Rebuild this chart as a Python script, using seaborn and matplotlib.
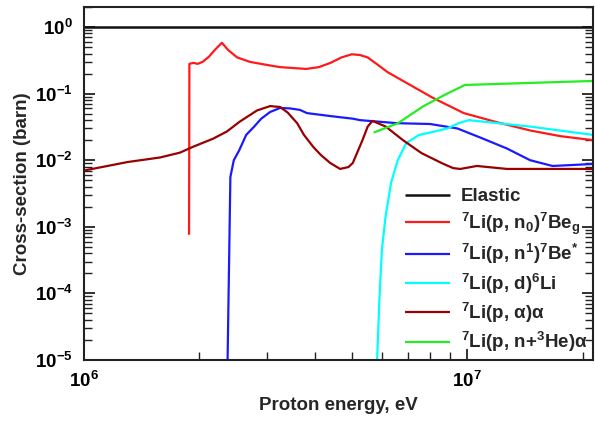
import numpy as np
import pandas as pd
import matplotlib
matplotlib.use("Agg")
import matplotlib.pyplot as plt
import seaborn as sns
from matplotlib.ticker import LogLocator, NullFormatter

# ---------------- data (energy in eV, cross-section in barn) ----------------
elastic_E = [1.0e6, 2.13e7]
elastic_s = [1.0, 1.0]

n0_E = [1.88e6, 1.884e6, 1.93e6, 1.98e6, 2.04e6, 2.12e6, 2.20e6, 2.29e6, 2.38e6,
        2.51e6, 2.71e6, 3.0e6, 3.25e6, 3.8e6, 4.1e6, 4.4e6, 4.7e6, 5.0e6, 5.25e6,
        5.5e6, 5.8e6, 6.2e6, 7.1e6, 8.15e6, 9.8e6, 1.2e7, 1.46e7, 1.75e7, 2.13e7]
n0_s = [7.6e-4, 0.28, 0.29, 0.28, 0.30, 0.36, 0.46, 0.58, 0.45,
        0.35, 0.30, 0.27, 0.25, 0.235, 0.25, 0.29, 0.35, 0.39, 0.38,
        0.35, 0.28, 0.21, 0.135, 0.086, 0.051, 0.037, 0.028, 0.023, 0.020]

n1_E = [2.37e6, 2.41e6, 2.46e6, 2.54e6, 2.65e6, 2.78e6, 2.90e6, 3.06e6, 3.25e6,
        3.45e6, 3.66e6, 3.82e6, 4.4e6, 5.04e6, 5.25e6, 6.56e6, 8.0e6, 9.43e6,
        1.08e7, 1.27e7, 1.46e7, 1.67e7, 1.9e7, 2.13e7]
n1_s = [1e-5, 5.6e-3, 0.010, 0.014, 0.024, 0.032, 0.042, 0.053, 0.061,
        0.060, 0.057, 0.051, 0.046, 0.042, 0.040, 0.036, 0.035, 0.030,
        0.022, 0.015, 0.010, 0.0082, 0.0085, 0.0088]

d_E = [5.82e6, 5.90e6, 5.99e6, 6.12e6, 6.33e6, 6.59e6, 6.93e6, 7.49e6, 8.0e6,
       8.87e6, 9.5e6, 1.01e7, 1.15e7, 1.46e7, 2.13e7]
d_s = [1e-5, 7.9e-5, 4.5e-4, 1.4e-3, 4.6e-3, 0.010, 0.018, 0.024, 0.026,
       0.030, 0.036, 0.040, 0.037, 0.032, 0.024]

a_E = [1.0e6, 1.3e6, 1.58e6, 1.78e6, 1.93e6, 2.17e6, 2.36e6, 2.55e6, 2.83e6,
       3.06e6, 3.25e6, 3.4e6, 3.6e6, 3.75e6, 3.96e6, 4.15e6, 4.39e6, 4.66e6,
       4.9e6, 5.03e6, 5.33e6, 5.5e6, 5.66e6, 6.13e6, 6.8e6, 7.6e6, 8.6e6,
       9.2e6, 9.6e6, 1.06e7, 1.27e7, 2.13e7]
a_s = [0.0070, 0.0094, 0.011, 0.013, 0.016, 0.021, 0.027, 0.038, 0.056,
       0.065, 0.063, 0.052, 0.036, 0.024, 0.016, 0.012, 0.0091, 0.0074,
       0.0079, 0.0091, 0.020, 0.032, 0.039, 0.032, 0.020, 0.0128, 0.0090,
       0.0076, 0.0074, 0.0082, 0.0074, 0.0074]

he_E = [5.70e6, 6.6e6, 7.66e6, 8.8e6, 9.87e6, 2.13e7]
he_s = [0.026, 0.036, 0.064, 0.098, 0.135, 0.155]

reactions = ["Elastic",
             r"$^{7}$Li(p, n$_{0}$)$^{7}$Be$_{g}$",
             r"$^{7}$Li(p, n$^{1}$)$^{7}$Be$^{*}$",
             r"$^{7}$Li(p, d)$^{6}$Li",
             r"$^{7}$Li(p, α)α",
             r"$^{7}$Li(p, n+$^{3}$He)α"]
colors = ["#111111", "#ff1a1a", "#1a1aff", "#00ffff", "#990000", "#22ee22"]

series = [(elastic_E, elastic_s), (n0_E, n0_s), (n1_E, n1_s),
          (d_E, d_s), (a_E, a_s), (he_E, he_s)]
frames = []
for name, (E, s) in zip(reactions, series):
    frames.append(pd.DataFrame({"E": E, "sigma": s, "reaction": name}))
df = pd.concat(frames, ignore_index=True)

# ---------------- style ----------------
sns.set_style("ticks")
plt.rcParams["font.family"] = ["Liberation Sans", "DejaVu Sans"]
plt.rcParams["font.weight"] = "bold"
plt.rcParams["mathtext.fontset"] = "custom"
plt.rcParams["mathtext.rm"] = "Liberation Sans:bold"
plt.rcParams["mathtext.bf"] = "Liberation Sans:bold"
plt.rcParams["mathtext.it"] = "Liberation Sans:bold:italic"
plt.rcParams["mathtext.default"] = "bf"

fig = plt.figure(figsize=(5.95, 4.28), dpi=100)
ax = fig.add_axes([84 / 595, 1 - 360 / 428, (593 - 84) / 595, (360 - 7) / 428])

sns.lineplot(data=df, x="E", y="sigma", hue="reaction", hue_order=reactions,
             palette=colors, sort=False, estimator=None, linewidth=1.6,
             legend=False, ax=ax)
for ln in ax.lines:
    ln.set_solid_joinstyle("round")
    ln.set_solid_capstyle("butt")
ax.lines[0].set_linewidth(1.8)

ax.set_xscale("log")
ax.set_yscale("log")
ax.set_xlim(1e6, 2.13e7)
ax.set_ylim(1e-5, 2.0)

ax.xaxis.set_major_locator(LogLocator(base=10, numticks=10))
ax.xaxis.set_minor_locator(LogLocator(base=10, subs=np.arange(2, 10), numticks=20))
ax.yaxis.set_major_locator(LogLocator(base=10, numticks=10))
ax.yaxis.set_minor_locator(LogLocator(base=10, subs=np.arange(2, 10), numticks=20))
ax.xaxis.set_minor_formatter(NullFormatter())
ax.yaxis.set_minor_formatter(NullFormatter())

ax.tick_params(which="both", direction="in", top=False, right=True,
               colors="#222222", labelcolor="black", labelsize=13.5)
ax.tick_params(which="major", length=8, width=1.3, pad=8)
ax.tick_params(which="minor", length=6, width=1.0)
for sp in ax.spines.values():
    sp.set_linewidth(1.5)
    sp.set_color("#222222")

ax.set_xlabel("Proton energy, eV", fontsize=13.5, fontweight="bold", labelpad=4)
ax.set_ylabel("Cross-section (barn)", fontsize=13.5, fontweight="bold", labelpad=3)

ax.legend(handles=list(ax.lines), labels=reactions, loc="lower right",
          bbox_to_anchor=(1.004, -0.005), frameon=False, fontsize=13.5,
          handlelength=2.4, handletextpad=0.6, labelspacing=0.28,
          borderaxespad=0.0)

fig.savefig("out.png", dpi=100)
